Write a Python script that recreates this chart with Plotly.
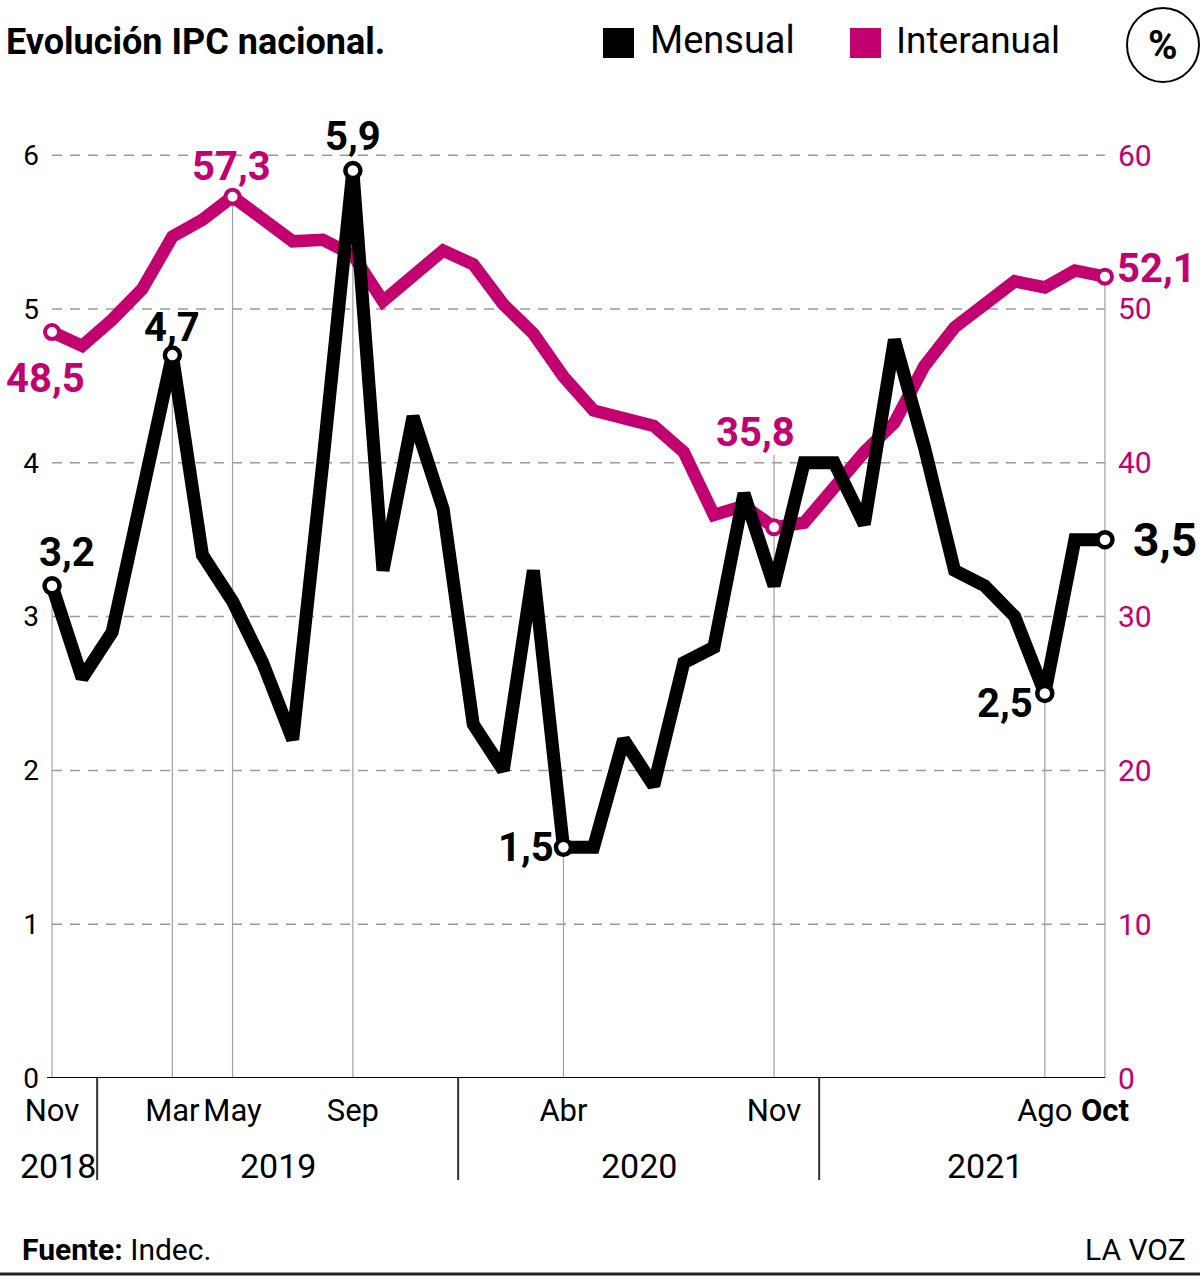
import plotly.graph_objects as go

# ---------------- data ----------------
months = ["Nov 2018", "Dic 2018", "Ene 2019", "Feb 2019", "Mar 2019", "Abr 2019", "May 2019",
          "Jun 2019", "Jul 2019", "Ago 2019", "Sep 2019", "Oct 2019", "Nov 2019", "Dic 2019",
          "Ene 2020", "Feb 2020", "Mar 2020", "Abr 2020", "May 2020", "Jun 2020", "Jul 2020",
          "Ago 2020", "Sep 2020", "Oct 2020", "Nov 2020", "Dic 2020", "Ene 2021", "Feb 2021",
          "Mar 2021", "Abr 2021", "May 2021", "Jun 2021", "Jul 2021", "Ago 2021", "Sep 2021",
          "Oct 2021"]
mensual = [3.2, 2.6, 2.9, 3.8, 4.7, 3.4, 3.1, 2.7, 2.2, 4.0, 5.9, 3.3, 4.3, 3.7,
           2.3, 2.0, 3.3, 1.5, 1.5, 2.2, 1.9, 2.7, 2.8, 3.8, 3.2, 4.0, 4.0, 3.6,
           4.8, 4.1, 3.3, 3.2, 3.0, 2.5, 3.5, 3.5]
interanual = [48.5, 47.6, 49.3, 51.3, 54.7, 55.8, 57.3, 55.8, 54.4, 54.5, 53.5, 50.5, 52.1, 53.8,
              52.9, 50.3, 48.4, 45.6, 43.4, 42.8, 42.4, 40.7, 36.6, 37.2, 35.8, 36.1, 38.5, 40.7,
              42.6, 46.3, 48.8, 50.2, 51.8, 51.4, 52.5, 52.1]
tick_idx = [0, 4, 6, 10, 17, 24, 33, 35]
tick_text = ["Nov", "Mar", "May", "Sep", "Abr", "Nov", "Ago", "<b>Oct</b>"]
years = ["2018", "2019", "2020", "2021"]
year_sep = [1.5, 13.5, 25.5]
left_ticks = [0, 1, 2, 3, 4, 5, 6]
right_ticks = [0, 10, 20, 30, 40, 50, 60]
mensual_hl = [0, 4, 10, 17, 33, 35]
interanual_hl = [0, 6, 24, 35]

# ---------------- styling ----------------
BLACK = "#000000"
MAG = "#c2006f"
GRID = "#9a9a9a"
FONT = "Roboto, Noto Sans, sans-serif"

W, H = 1200, 1278
L, R, T, B = 40, 83, 109, 200
PW, PH = W - L - R, H - T - B

def px(x):
    return (x - L) / PW

def py(y):
    return (H - B - y) / PH

x = list(range(len(months)))
fmt = lambda v: f"{v:.1f}".replace(".", ",")

fig = go.Figure()

# Interanual (primary y, right side) drawn first (below)
fig.add_trace(go.Scatter(x=x, y=interanual, mode="lines", yaxis="y",
                         line=dict(color=MAG, width=12.5), hoverinfo="skip", showlegend=False))
fig.add_trace(go.Scatter(x=[x[i] for i in interanual_hl], y=[interanual[i] for i in interanual_hl],
                         mode="markers", yaxis="y", cliponaxis=False,
                         marker=dict(size=14, color="white", line=dict(color=MAG, width=4)),
                         hoverinfo="skip", showlegend=False))
# Mensual (y2, left side, overlaying -> on top)
fig.add_trace(go.Scatter(x=x, y=mensual, mode="lines", yaxis="y2",
                         line=dict(color=BLACK, width=13), hoverinfo="skip", showlegend=False))
fig.add_trace(go.Scatter(x=[x[i] for i in mensual_hl], y=[mensual[i] for i in mensual_hl],
                         mode="markers", yaxis="y2", cliponaxis=False,
                         marker=dict(size=15, color="white", line=dict(color=BLACK, width=4.5)),
                         hoverinfo="skip", showlegend=False))

shapes = []
# dashed gridlines
for t in left_ticks[1:]:
    shapes.append(dict(type="line", xref="x", yref="y2", x0=0, x1=35, y0=t, y1=t,
                       line=dict(color=GRID, width=1.5, dash="10px,8px"), layer="below"))
# vertical guides
guides = [(0, "y2", mensual[0]), (4, "y2", mensual[4]), (6, "y", interanual[6]),
          (10, "y2", mensual[10]), (17, "y2", mensual[17]), (24, "y", interanual[24] + 4.7),
          (33, "y2", mensual[33]), (35, "y", interanual[35])]
for gi, ref, top in guides:
    shapes.append(dict(type="line", xref="x", yref=ref, x0=gi, x1=gi, y0=0, y1=top,
                       line=dict(color="#a0a0a0", width=1.2), layer="below"))
# baseline
shapes.append(dict(type="line", xref="x", yref="y2", x0=-0.17, x1=35, y0=0, y1=0,
                   line=dict(color=BLACK, width=2)))
# year separators
for s in year_sep:
    shapes.append(dict(type="line", xref="x", yref="paper", x0=s, x1=s, y0=0, y1=py(1180),
                       line=dict(color="#333333", width=2)))
# legend squares
shapes.append(dict(type="rect", xref="paper", yref="paper", x0=px(603), x1=px(634),
                   y0=py(58), y1=py(28), fillcolor=BLACK, line=dict(width=0)))
shapes.append(dict(type="rect", xref="paper", yref="paper", x0=px(850), x1=px(881),
                   y0=py(58), y1=py(28), fillcolor=MAG, line=dict(width=0)))
# % circle
shapes.append(dict(type="circle", xref="paper", yref="paper", x0=px(1127), x1=px(1199),
                   y0=py(82), y1=py(8), line=dict(color=BLACK, width=2)))
# footer rule
shapes.append(dict(type="line", xref="paper", yref="paper", x0=px(0), x1=px(1200),
                   y0=py(1274), y1=py(1274), line=dict(color="#222222", width=3)))

ann = []
# data labels
m_off = {0: (15, 33, 40), 4: (0, 28, 40), 10: (0, 34, 40), 17: (-37, 0, 40),
         33: (-40, -10, 40), 35: (60, 0, 46)}
for i in mensual_hl:
    dx, dy, sz = m_off[i]
    ann.append(dict(x=x[i], y=mensual[i], xref="x", yref="y2", text=f"<b>{fmt(mensual[i])}</b>",
                    showarrow=False, xshift=dx, yshift=dy,
                    font=dict(family=FONT, size=sz, color=BLACK)))
i_off = {0: (-7, -46, 40), 6: (-1, 30, 40), 24: (-19, 95, 40), 35: (52, 8, 40)}
for i in interanual_hl:
    dx, dy, sz = i_off[i]
    ann.append(dict(x=x[i], y=interanual[i], xref="x", yref="y", text=f"<b>{fmt(interanual[i])}</b>",
                    showarrow=False, xshift=dx, yshift=dy,
                    font=dict(family=FONT, size=sz, color=MAG)))
# year labels
for yl, xc in zip(years, [0.2, 7.5, 19.5, 31.0]):
    ann.append(dict(x=xc, y=py(1166), xref="x", yref="paper", text=yl, showarrow=False,
                    yanchor="middle", font=dict(family=FONT, size=34, color=BLACK)))
# title
ann.append(dict(x=px(4), y=py(42), xref="paper", yref="paper", xanchor="left", yanchor="middle",
                text="<b>Evolución IPC nacional.</b>", showarrow=False,
                font=dict(family=FONT, size=36, color=BLACK)))
# legend labels
ann.append(dict(x=px(648), y=py(40), xref="paper", yref="paper", xanchor="left", yanchor="middle",
                text="Mensual", showarrow=False, font=dict(family=FONT, size=38, color=BLACK)))
ann.append(dict(x=px(894), y=py(40), xref="paper", yref="paper", xanchor="left", yanchor="middle",
                text="Interanual", showarrow=False, font=dict(family=FONT, size=37, color=BLACK)))
ann.append(dict(x=px(1163), y=py(46), xref="paper", yref="paper", xanchor="center", yanchor="middle",
                text="<b>%</b>", showarrow=False, font=dict(family=FONT, size=40, color=BLACK)))
# footer
ann.append(dict(x=px(20), y=py(1249), xref="paper", yref="paper", xanchor="left", yanchor="middle",
                text="<b>Fuente:</b> Indec.", showarrow=False,
                font=dict(family=FONT, size=30, color=BLACK)))
ann.append(dict(x=px(1188), y=py(1249), xref="paper", yref="paper", xanchor="right", yanchor="middle",
                text="LA VOZ", showarrow=False, font=dict(family=FONT, size=30, color=BLACK)))

fig.update_layout(
    width=W, height=H, margin=dict(l=L, r=R, t=T, b=B),
    paper_bgcolor="white", plot_bgcolor="white", showlegend=False,
    xaxis=dict(range=[-0.4, 35.4], tickmode="array", tickvals=tick_idx, ticktext=tick_text,
               showgrid=False, zeroline=False, showline=False, ticks="", tickangle=0,
               ticklabelstandoff=11, automargin=False,
               tickfont=dict(family=FONT, size=31, color=BLACK)),
    yaxis=dict(range=[0, 63], side="right", tickmode="array", tickvals=right_ticks,
               showgrid=False, zeroline=False, showline=False, ticks="", automargin=False,
               tickfont=dict(family=FONT, size=30, color=MAG)),
    yaxis2=dict(range=[0, 6.3], side="left", overlaying="y", tickmode="array", tickvals=left_ticks,
                showgrid=False, zeroline=False, showline=False, ticks="", automargin=False,
                tickfont=dict(family=FONT, size=28, color=BLACK)),
    shapes=shapes, annotations=ann,
)

fig.write_html("out.html")
